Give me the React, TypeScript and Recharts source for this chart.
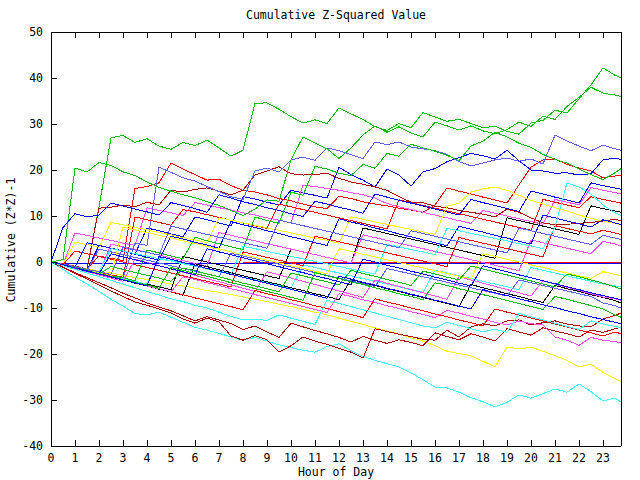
import React from 'react';
import { LineChart, Line, XAxis, YAxis } from 'recharts';

// sample times (hours), half-hour steps plus the last reading
const hours = [
  0, 0.5, 1, 1.5, 2, 2.5, 3, 3.5,
  4, 4.5, 5, 5.5, 6, 6.5, 7, 7.5,
  8, 8.5, 9, 9.5, 10, 10.5, 11, 11.5,
  12, 12.5, 13, 13.5, 14, 14.5, 15, 15.5,
  16, 16.5, 17, 17.5, 18, 18.5, 19, 19.5,
  20, 20.5, 21, 21.5, 22, 22.5, 23, 23.5,
  23.75,
];

const xTicks = [0, 1, 2, 3, 4, 5, 6, 7, 8, 9, 10, 11, 12, 13, 14, 15, 16, 17, 18, 19, 20, 21, 22, 23];
const yTicks = [-40, -30, -20, -10, 0, 10, 20, 30, 40, 50];

const green1 = [
  0, -0.6, -1.2, -1.5, 12, 27, 27.5, 26,
  26.8, 25.2, 24.5, 26, 25.3, 26.5, 24.8, 23,
  24.3, 34.5, 34.6, 33.2, 31.6, 30.2, 30.9, 30.1,
  33.5, 32.2, 31, 29.4, 28.6, 30.1, 29.2, 32.5,
  31.5, 30.6, 31, 30.1, 29.2, 29.5, 28.4, 27.8,
  30.2, 30.8, 33, 32.4, 35.5, 38.5, 42.2, 40.6,
  40,
];
const green2 = [
  0, 0.5, 20.4, 19.6, 21.6, 21, 19.6, 18.8,
  17.4, 16.2, 15.4, 14.6, 14, 13.1, 12.3, 11.2,
  10.1, 11.5, 13.5, 13.2, 22.2, 27.2, 25.9, 24.6,
  22.5, 24.8, 27.6, 29.6, 28.2, 29.4, 28, 27.2,
  30.4, 29.6, 28.7, 29.6, 28.5, 27.9, 28.8, 30.4,
  29.5, 31.7, 31, 33.8, 35.8, 38, 36.7, 36.3,
  36,
];
const green3 = [
  0, -0.5, -1.1, -1.8, -2.3, -3, -3.4, -4.1,
  2.6, 2, 1.3, 0.7, 5.4, 4.6, 4, 3.3,
  2.7, 9.8, 9, 8.4, 15.2, 14.5, 20.8, 20.2,
  19.3, 18.8, 21.2, 20.4, 23.6, 23, 25.6, 24.8,
  24.1, 23.2, 22, 25.2, 26.3, 28.2, 27.2, 25.8,
  24.9, 23.4, 22.3, 21.5, 20.2, 19, 17.9, 19.4,
  20.3,
];
const green4 = [
  0, -0.7, -1.3, -1.9, -2.6, -1, -1.6, -2.3,
  -2.9, -3.5, -4.2, -1.3, -1.9, -2.6, -3.2, -3.9,
  -4.6, -5.2, -5.8, -6.5, -2.4, -3, -3.7, -4.3,
  -5, -1.8, -2.5, -3.1, -3.8, -4.4, -5.1, -2,
  -2.6, -3.3, -3.9, -0.9, -1.5, -2.2, -2.8, -3.5,
  -4.1, -4.8, -5.4, -2.6, -3.2, -3.9, -4.6, -5.4,
  -5.9,
];
const green5 = [
  0, -0.6, -1.2, -1.8, -2.5, -3.1, -3.8, -4.4,
  -5, -5.7, -1.2, -1.8, -2.5, -3.1, -3.8, -4.5,
  -5.1, -5.8, -6.4, -7, -7.7, -8.3, -2.3, -3,
  -3.6, -4.3, -4.9, -5.6, -6.2, -6.9, -7.5, -8.2,
  -4.5, -5.1, -5.8, -6.4, -7.1, -7.7, -8.4, -9,
  -9.7, -10.3, -7.5, -8.1, -8.8, -9.5, -10.2, -11.5,
  -12,
];

const blueFlat = [
  -0.4, -0.4, -0.4, -0.4, -0.4, -0.4, -0.4, -0.4,
  -0.4, -0.4, -0.4, -0.4, -0.4, -0.4, -0.4, -0.4,
  -0.4, -0.4, -0.4, -0.4, -0.4, -0.4, -0.4, -0.4,
  -0.4, -0.4, -0.4, -0.4, -0.4, -0.4, -0.4, -0.4,
  -0.4, -0.4, -0.4, -0.4, -0.4, -0.4, -0.4, -0.4,
  -0.4, -0.4, -0.4, -0.4, -0.4, -0.4, -0.4, -0.4,
  -0.4,
];
const blue1 = [
  0, -0.6, -1.1, -1.7, 3.6, 3, 2.4, 1.7,
  7.4, 6.8, 6.1, 5.5, 9.8, 9.2, 8.5, 7.8,
  14.2, 13.7, 13, 12.4, 15.6, 15, 14.5, 13.9,
  20.6, 19, 17.8, 16.3, 20.2, 18.9, 16.5, 19.6,
  20.3, 21.8, 22.7, 23.6, 23.1, 22.4, 24.3, 22,
  20, 19.8, 19.3, 19.4, 18.9, 19.2, 22.2, 22.6,
  22.3,
];
const blue2 = [
  0, 7.5, 10.5, 9.8, 10.2, 12.8, 12.2, 11.5,
  10.9, 10.2, 12.9, 12.3, 11.6, 10.8, 14.6, 13.9,
  13.1, 12.5, 11.8, 11.2, 10.5, 9.9, 13.2, 12.6,
  11.9, 11.3, 10.6, 14.8, 14.1, 13.4, 12.8, 12.2,
  11.5, 10.9, 10.2, 13.6, 12.9, 12.3, 11.6, 11,
  15.4, 14.8, 14.1, 13.5, 12.8, 17.2, 16.6, 16.1,
  15.8,
];
const blue3 = [
  0, -0.5, -1.1, 4.2, 3.6, 3, 2.3, 1.7,
  1, 0.4, 5.6, 5, 4.3, 3.7, 3, 8.8,
  8.1, 7.5, 6.8, 6.2, 5.5, 4.9, 4.2, 3.6,
  9.4, 8.7, 8.1, 7.4, 6.8, 6.1, 5.5, 4.8,
  4.2, 3.5, 7.8, 7.1, 6.5, 5.8, 5.2, 4.5,
  3.9, 10.2, 9.6, 8.9, 8.3, 7.6, 9.2, 8.5,
  8.1,
];
const blue4 = [
  0, -0.7, -1.3, -2, -2.6, 1.8, 1.1, 0.5,
  -0.2, -0.8, -1.5, -2.1, -2.8, 2.9, 2.2, 1.6,
  0.9, 0.3, -0.4, -1, -1.7, -2.3, -3, -3.6,
  -4.3, -4.9, 0.6, 0, -0.7, -1.3, -2, -2.6,
  -3.3, -3.9, -4.6, -5.2, -0.8, -1.5, -2.1, -2.8,
  -3.4, -4.1, -4.7, -5.4, -6, -6.7, -7.3, -7.9,
  -8.2,
];
const blue5 = [
  0, -0.6, -1.3, -1.9, -2.6, -3.2, -3.9, -4.5,
  -5.2, 1.2, 0.6, -0.1, -0.7, -1.4, -2, -2.7,
  -3.3, -4, -4.6, -5.3, -5.9, -6.6, -7.2, -7.9,
  -3.1, -3.7, -4.4, -5, -5.7, -6.3, -7, -7.6,
  -8.3, -8.9, -9.6, -10.2, -6, -6.7, -7.3, -8,
  -8.6, -9.3, -9.9, -10.6, -11.2, -11.9, -12.5, -13.1,
  -13.4,
];

const lavender1 = [
  0, -0.6, -1.2, -1.8, -2.3, -2.9, -3.4, 4.1,
  3.6, 20.6, 19.5, 18.3, 17.6, 16.4, 15.3, 14.2,
  13.6, 19.8, 20.4, 19.6, 22.2, 22.8, 22.1, 24.8,
  24.2, 23.3, 22.5, 26.1, 25.5, 26.1, 25, 24.6,
  24.2, 23.4, 21.8, 20.9, 21.5, 22.2, 22.6, 21.9,
  22.4, 21.3, 27.6, 26.3, 25.2, 24.2, 25.4, 24.6,
  24.3,
];
const lavender2 = [
  0, -0.6, -1.2, -1.8, 2.8, 2.2, 1.6, 1,
  0.4, -0.2, -0.8, -1.4, -2, -2.6, -3.2, 1.9,
  1.3, 0.7, 0.1, -0.5, -1.1, -1.7, -2.3, -2.9,
  -3.5, -4.1, -4.7, -5.3, -1.4, -2, -2.6, -3.2,
  -3.8, -4.4, -5, -5.6, -6.2, -6.8, -7.4, -3.9,
  -4.5, -5.1, -5.7, -6.3, -6.9, -7.5, -8.9, -9.5,
  -10,
];
const lavender3 = [
  0, -0.5, -1, -1.6, -2.1, -2.7, 3.2, 2.6,
  2.1, 1.5, 7.8, 7.2, 6.6, 6, 5.4, 4.8,
  4.2, 3.6, 3, 9.1, 8.5, 7.9, 7.3, 6.7,
  6.1, 5.5, 4.9, 4.3, 3.7, 3.1, 6.8, 6.2,
  5.6, 5, 4.4, 3.8, 3.2, 2.6, 2, 7.4,
  6.8, 6.2, 5.6, 5, 4.4, 3.8, 5.8, 5.2,
  4.9,
];

const redFlat = [
  null, null, null, null, null, null, null, null,
  null, null, null, null, null, null, null, null,
  0, 0, 0, 0, 0, 0, 0, 0,
  0, 0, 0, 0, 0, 0, 0, 0,
  0, 0, 0, 0, 0, 0, 0, 0,
  0, 0, 0, 0, 0, 0, 0, 0,
  0,
];
const red1 = [
  0, -0.4, -0.9, -1.5, 1.3, 0.8, 0.3, 16,
  16.4, 17.2, 21.5, 20.2, 19, 17.8, 18, 16.6,
  15.6, 15.2, 14.6, 13.8, 13.3, 12.6, 12, 11.6,
  14.3, 13.8, 13.1, 12.6, 12.2, 11.7, 11.3, 10.8,
  12.4, 16.1, 15.4, 14.8, 14.1, 13.5, 12.8, 16.8,
  20.6, 22.2, 22.4, 21.2, 20.4, 19.8, 18.3, 18.7,
  18.9,
];
const red2 = [
  0, -0.6, -1.1, -1.7, -2.2, -2.8, -3.3, 9.8,
  9.2, 8.6, 8, 11.4, 10.9, 10.3, 9.7, 9.1,
  8.5, 7.9, 7.3, 12.6, 12, 11.4, 10.8, 10.2,
  9.6, 9, 8.4, 7.8, 7.2, 13.5, 12.9, 12.3,
  11.7, 11.1, 10.5, 9.9, 9.3, 8.7, 8.1, 7.5,
  6.9, 13.6, 13, 12.4, 11.8, 14.2, 13.6, 13.1,
  12.8,
];
const red3 = [
  0, -0.6, 2.4, 1.8, 1.2, 0.6, 0, -0.6,
  -1.2, -1.8, -2.4, -3, -3.6, -4.2, -4.8, -5.4,
  2.2, 1.6, 1, 0.4, -0.2, -0.8, 5.6, 5,
  4.4, 3.8, 3.2, 2.6, 2, 1.4, 0.8, 0.2,
  -0.4, -1, 5.3, 4.7, 4.1, 3.5, 2.9, 2.3,
  1.7, 1.1, 7.9, 7.3, 6.7, 6.1, 6.9, 6.3,
  6,
];
const red4 = [
  0, -0.6, -1.3, -1.9, -2.6, -3.2, -3.9, -4.5,
  -5.2, -5.8, -6.5, -7.1, -7.8, -8.4, -9.1, -9.7,
  -10.4, -6.2, -6.9, -7.5, -8.2, -8.8, -9.5, -10.1,
  -10.8, -11.4, -12.1, -8, -8.7, -9.3, -10, -10.6,
  -11.3, -11.9, -12.6, -13.2, -13.9, -10.2, -10.9, -11.5,
  -12.2, -12.8, -13.5, -14.1, -14.8, -15.4, -16.1, -15.2,
  -15.6,
];

const darkRed1 = [
  0, -0.5, -1, -1.5, 11.7, 11.9, 12.4, 12,
  13, 12.4, 15.6, 15.2, 15.8, 16.1, 15.4, 14.6,
  15.6, 18.9, 19.8, 20.7, 19.2, 18.9, 19, 19.3,
  18.2, 17.4, 16.9, 16.3, 15.6, 14.2, 13, 12.9,
  12.1, 11.8, 11.2, 10.8, 10.4, 9.8, 11.5, 10.8,
  9.6, 8.5, 8.1, 8.2, 8.4, 8.6, 8.9, 9.3,
  9,
];
const darkRed2 = [
  0, -1.2, -2.5, -3.7, -5, -6.3, -7.5, -8.7,
  -9.4, -10.2, -11.1, -12.4, -13.3, -12.2, -13, -16.1,
  -17, -16, -16.9, -19.6, -18.2, -16.3, -17.2, -17.9,
  -18.8, -19.6, -20.9, -14.5, -15.1, -15.7, -16.2, -16.8,
  -17, -14.8, -16.3, -14.1, -13.4, -13.9, -12.8, -12.6,
  -13.7, -13.2, -12.8, -13.5, -13.9, -14.1, -12.4, -11.6,
  -11.1,
];
const darkRed3 = [
  0, -1.1, -2.3, -3.4, -4.5, -5.6, -6.8, -7.8,
  -8.9, -9.8, -10.6, -11.7, -12.8, -11.9, -12.6, -13.4,
  -14.7, -13.9, -15.2, -16.4, -13.3, -14.1, -14.9, -15.6,
  -16.4, -17.4, -16.2, -17, -17.7, -16.9, -17.5, -18.2,
  -15.4, -16.2, -16.9, -15.6, -16.3, -17.2, -14.5, -15.2,
  -15.9, -14.3, -15, -15.6, -16.3, -14.8, -15.3, -14.5,
  -14.2,
];

const magenta1 = [
  0, -0.5, 6.3, 5.8, 5.2, 4.7, 4.1, 3.6,
  11.8, 11.2, 10.7, 10.1, 12.9, 12.4, 11.8, 11.3,
  10.7, 10.2, 9.6, 9.1, 8.5, 16.7, 16.4, 16,
  15.6, 15.1, 14.6, 13.9, 12.7, 12, 11.4, 10.8,
  10.2, 9.6, 9, 8.4, 11.2, 10.6, 10, 9.4,
  8.8, 8.2, 13.6, 13, 12.4, 16.2, 15.6, 15.1,
  14.8,
];
const magenta2 = [
  0, -0.6, -1.2, -1.8, -2.4, 3.9, 3.3, 2.7,
  2.1, 1.5, 0.9, 0.3, -0.3, -0.9, 6.4, 5.8,
  5.2, 4.6, 4, 3.4, 2.8, 2.2, 1.6, 1,
  0.4, -0.2, 5.9, 5.3, 4.7, 4.1, 3.5, 2.9,
  2.3, 1.7, 1.1, 0.5, -0.1, -0.7, -1.3, -1.9,
  4.8, 4.2, 3.6, 3, 2.4, 1.8, 4.5, 3.9,
  3.5,
];
const magenta3 = [
  0, -0.7, -1.4, -2.1, -2.8, -3.5, -4.2, 0.6,
  -0.1, -0.8, -1.5, -2.2, -2.9, -3.6, -4.3, -5,
  -5.7, -6.4, -2.1, -2.8, -3.5, -4.2, -4.9, -5.6,
  -6.3, -7, -7.7, -3.9, -4.6, -5.3, -6, -6.7,
  -7.4, -8.1, -3.2, -3.9, -4.6, -5.3, -6, -6.7,
  -7.4, -4.1, -4.8, -5.5, -6.2, -6.9, -7.6, -8,
  -8.3,
];
const magenta4 = [
  0, -0.6, -1.3, -1.9, -2.6, -3.2, -3.9, -4.5,
  -5.2, -5.8, -6.5, -3.2, -3.8, -4.5, -5.1, -5.8,
  -6.4, -7.1, -7.7, -8.4, -9, -9.7, -10.3, -11,
  -6.9, -7.5, -8.2, -8.8, -9.5, -10.1, -10.8, -11.4,
  -12.1, -10.5, -11.1, -11.8, -12.4, -13.1, -13.7, -12.8,
  -13.4, -13.7, -16.3, -17, -18.1, -16.4, -17, -17.3,
  -17.6,
];

const cyan1 = [
  0, -1.6, -3.3, -4.8, -6.4, -8.1, -9.6, -11.2,
  -11.5, -10.9, -12, -13.1, -14.2, -14.8, -15.5, -16.3,
  -17, -16.4, -17.2, -18, -18.6, -19.2, -19.6, -18.4,
  -17.8, -19.3, -20.5, -21.4, -22.1, -22.8, -24.1, -25.6,
  -27.2, -27.4, -28.3, -29.5, -30.4, -31.5, -30.5, -28.9,
  -29.6, -28.6, -27.6, -28.3, -26.5, -28.2, -30.2, -29.6,
  -30.4,
];
const cyan2 = [
  0, -0.6, -1.2, -1.8, -2.4, -3, -3.6, -4.2,
  -4.8, 0.9, 0.3, -0.3, -0.9, -1.5, -2.1, -2.7,
  -3.3, -3.9, -4.5, -5.1, -5.7, -0.6, -1.2, -1.8,
  -2.4, -3, -3.6, -4.2, -4.8, -5.4, -6, -6.6,
  -1.8, -2.4, -3, -3.6, -4.2, -4.8, -5.4, -6,
  -1.2, -1.8, -2.4, -3, -3.6, -4.2, -4.8, -5.2,
  -5.4,
];
const cyan3 = [
  0, -0.5, -1.1, -1.6, -2.2, 2.9, 2.4, 1.8,
  1.3, 0.7, 0.2, -0.4, -0.9, -1.5, -2, -2.6,
  3.4, 2.9, 2.3, 1.8, 1.2, 0.7, 0.1, -0.4,
  -1, -1.5, -2.1, -2.6, 3.8, 3.3, 2.7, 2.2,
  1.6, 7.3, 6.8, 6.2, 5.7, 5.1, 4.6, 4,
  3.5, 2.9, 7.6, 17.2, 16.3, 14.8, 12.4, 10.7,
  10.1,
];
const cyan4 = [
  0, -0.8, -1.6, -2.4, -3.2, -4, -4.8, -5.6,
  -6.4, -7.2, -8, -8.6, -9.4, -10, -10.9, -11.8,
  -12.6, -12.4, -12.7, -11.5, -12.2, -12.9, -13.6, -8.3,
  -9, -9.7, -10.4, -11.1, -11.8, -12.5, -13.2, -13.9,
  -14.3, -13.1, -13.8, -14.5, -15.2, -14.6, -15.3, -11.2,
  -11.9, -12.6, -13.3, -14, -14.7, -12.8, -13.5, -14,
  -14.3,
];

const yellow1 = [
  0, -0.5, -1, -1.5, -2, -2.4, -2.9, -3.4,
  -3.8, -4.3, -4.8, -5.2, -5.7, -6.2, -6.6, -7.1,
  -7.6, -8.1, -8.6, -9.2, -9.7, -10.3, -10.9, -11.5,
  -12.2, -12.9, -13.6, -14.3, -15, -15.7, -16.5, -17.2,
  -18.2, -19.4, -19.9, -20.4, -21.6, -22.8, -18.5, -18.9,
  -18.5, -19.4, -20.4, -21.4, -22.8, -22.2, -24, -25.3,
  -26,
];
const yellow2 = [
  0, -0.5, 4.3, 3.8, 3.2, 8.6, 8.1, 7.5,
  7, 6.4, 5.9, 5.3, 4.8, 4.2, 9.6, 9.1,
  8.5, 8, 7.4, 6.9, 6.3, 5.8, 5.2, 4.7,
  4.1, 9.8, 9.3, 8.7, 8.2, 7.6, 7.1, 6.5,
  6, 12.1, 12.8, 15.2, 15.9, 16.3, 15.6, 14.5,
  13.4, 12.6, 11.8, 11.1, 10.2, 9.5, 8.9, 8.4,
  8.1,
];
const yellow3 = [
  0, -0.6, -1.2, -1.8, -2.4, -3, 7.6, 7,
  6.4, 5.8, 5.2, 4.6, 4, 3.4, 2.8, 2.2,
  1.6, 1, 0.4, -0.2, -0.8, -1.4, -2, -2.6,
  2.9, 2.3, 1.7, 1.1, 0.5, -0.1, -0.7, -1.3,
  -1.9, -2.5, -3.1, -3.7, 1.8, 1.2, 0.6, 0,
  -0.6, -1.2, -1.8, -2.4, -3, -3.6, -2.1, -2.7,
  -3,
];

const black1 = [
  0, -0.6, -1.2, -1.8, -2.4, -3, -3.6, -4.2,
  -4.8, -5.4, -6, 1.2, 0.6, 0, -0.6, -1.2,
  -1.8, -2.4, -3, -3.6, 2.8, 2.2, 1.6, 1,
  0.4, -0.2, 7.4, 6.8, 6.2, 5.6, 5, 4.4,
  3.8, 3.2, 2.6, 2, 1.4, 0.8, 9.6, 9,
  8.4, 7.8, 7.2, 6.6, 6, 12.2, 11.6, 11.1,
  10.8,
];
const black2 = [
  0, -0.7, -1.3, -2, -2.6, -3.3, -3.9, -4.6,
  -5.2, -5.9, -6.5, -7.2, -0.4, -1, -1.7, -2.3,
  -3, -3.6, -4.3, -4.9, -5.6, -6.2, -6.9, -7.5,
  -8.2, -3.8, -4.5, -5.1, -5.8, -6.4, -7.1, -7.7,
  -8.4, -9, -9.7, -4.9, -5.6, -6.2, -6.9, -7.5,
  -8.2, -8.8, -5.1, -5.8, -6.4, -7.1, -7.7, -8.4,
  -8.9,
];

const RED = '#ff0000';
const GREEN = '#00c000';
const BLUE = '#0000ff';
const MAGENTA = '#ff50ff';
const CYAN = '#40ffff';
const DARKRED = '#b00000';
const YELLOW = '#ffff00';
const BLACK = '#000000';
const LAVENDER = '#6060ff';

// drawing order, later ones on top
const series = [
  { key: 'redFlat', color: RED, values: redFlat },
  { key: 'blueFlat', color: BLUE, values: blueFlat },
  { key: 'red1', color: RED, values: red1 },
  { key: 'green1', color: GREEN, values: green1 },
  { key: 'blue1', color: BLUE, values: blue1 },
  { key: 'magenta1', color: MAGENTA, values: magenta1 },
  { key: 'cyan1', color: CYAN, values: cyan1 },
  { key: 'darkRed1', color: DARKRED, values: darkRed1 },
  { key: 'yellow1', color: YELLOW, values: yellow1 },
  { key: 'black1', color: BLACK, values: black1 },
  { key: 'lavender1', color: LAVENDER, values: lavender1 },
  { key: 'red2', color: RED, values: red2 },
  { key: 'green2', color: GREEN, values: green2 },
  { key: 'blue2', color: BLUE, values: blue2 },
  { key: 'magenta2', color: MAGENTA, values: magenta2 },
  { key: 'cyan2', color: CYAN, values: cyan2 },
  { key: 'darkRed2', color: DARKRED, values: darkRed2 },
  { key: 'yellow2', color: YELLOW, values: yellow2 },
  { key: 'black2', color: BLACK, values: black2 },
  { key: 'lavender2', color: LAVENDER, values: lavender2 },
  { key: 'red3', color: RED, values: red3 },
  { key: 'green3', color: GREEN, values: green3 },
  { key: 'blue3', color: BLUE, values: blue3 },
  { key: 'magenta3', color: MAGENTA, values: magenta3 },
  { key: 'cyan3', color: CYAN, values: cyan3 },
  { key: 'darkRed3', color: DARKRED, values: darkRed3 },
  { key: 'yellow3', color: YELLOW, values: yellow3 },
  { key: 'lavender3', color: LAVENDER, values: lavender3 },
  { key: 'red4', color: RED, values: red4 },
  { key: 'green4', color: GREEN, values: green4 },
  { key: 'blue4', color: BLUE, values: blue4 },
  { key: 'magenta4', color: MAGENTA, values: magenta4 },
  { key: 'cyan4', color: CYAN, values: cyan4 },
  { key: 'green5', color: GREEN, values: green5 },
  { key: 'blue5', color: BLUE, values: blue5 },
];

const rows = hours.map((h, i) => {
  const row: Record<string, number | null> = { h };
  series.forEach((s) => {
    row[s.key] = s.values[i];
  });
  return row;
});

const FONT = "'DejaVu Sans Mono', 'Liberation Mono', monospace";
const FS = 11.5;

const BottomTick = (props: any) => {
  const { x, y, payload } = props;
  return (
    <g>
      <line x1={x} y1={y} x2={x} y2={y - 6} stroke="#000" />
      <text x={x} y={y + 16} textAnchor="middle" fontFamily={FONT} fontSize={FS} fill="#000">
        {payload.value}
      </text>
    </g>
  );
};

const TopTick = (props: any) => {
  const { x, y } = props;
  return <line x1={x} y1={y} x2={x} y2={y + 6} stroke="#000" />;
};

const LeftTick = (props: any) => {
  const { x, y, payload } = props;
  return (
    <g>
      <line x1={x} y1={y} x2={x + 6} y2={y} stroke="#000" />
      <text x={x - 8} y={y + 4} textAnchor="end" fontFamily={FONT} fontSize={FS} fill="#000">
        {payload.value}
      </text>
    </g>
  );
};

const RightTick = (props: any) => {
  const { x, y } = props;
  return <line x1={x} y1={y} x2={x - 6} y2={y} stroke="#000" />;
};

const App = () => {
  return (
    <div
      style={{
        position: 'absolute',
        left: 0,
        top: 0,
        width: 640,
        height: 480,
        background: '#fff',
        shapeRendering: 'crispEdges',
      }}
    >
      <LineChart width={640} height={480} data={rows} margin={{ top: 0, right: 0, bottom: 0, left: 0 }}>
        <XAxis
          xAxisId="bottom"
          dataKey="h"
          type="number"
          domain={[0, 23.75]}
          ticks={xTicks}
          interval={0}
          orientation="bottom"
          height={34}
          tickSize={0}
          tickMargin={0}
          axisLine={{ stroke: '#000' }}
          tickLine={false}
          tick={<BottomTick />}
        />
        <XAxis
          xAxisId="top"
          dataKey="h"
          type="number"
          domain={[0, 23.75]}
          ticks={xTicks}
          interval={0}
          orientation="top"
          height={32}
          tickSize={0}
          tickMargin={0}
          axisLine={{ stroke: '#000' }}
          tickLine={false}
          tick={<TopTick />}
        />
        <YAxis
          yAxisId="left"
          type="number"
          domain={[-40, 50]}
          ticks={yTicks}
          interval={0}
          width={51}
          tickSize={0}
          tickMargin={0}
          axisLine={{ stroke: '#000' }}
          tickLine={false}
          tick={<LeftTick />}
        />
        <YAxis
          yAxisId="right"
          orientation="right"
          type="number"
          domain={[-40, 50]}
          ticks={yTicks}
          interval={0}
          width={19}
          tickSize={0}
          tickMargin={0}
          axisLine={{ stroke: '#000' }}
          tickLine={false}
          tick={<RightTick />}
        />
        {series.map((s) => (
          <Line
            key={s.key}
            xAxisId="bottom"
            yAxisId="left"
            type="linear"
            dataKey={s.key}
            stroke={s.color}
            strokeWidth={1}
            dot={false}
            activeDot={false}
            isAnimationActive={false}
          />
        ))}
      </LineChart>
      <svg
        width={640}
        height={480}
        style={{ position: 'absolute', left: 0, top: 0, pointerEvents: 'none' }}
      >
        <text x={336} y={19} textAnchor="middle" fontFamily={FONT} fontSize={FS} fill="#000">
          Cumulative Z-Squared Value
        </text>
        <text x={336} y={476} textAnchor="middle" fontFamily={FONT} fontSize={FS} fill="#000">
          Hour of Day
        </text>
        <text
          transform="translate(15,240) rotate(-90)"
          textAnchor="middle"
          fontFamily={FONT}
          fontSize={FS}
          fill="#000"
        >
          Cumulative (Z*Z)-1
        </text>
      </svg>
    </div>
  );
};

export default App;
